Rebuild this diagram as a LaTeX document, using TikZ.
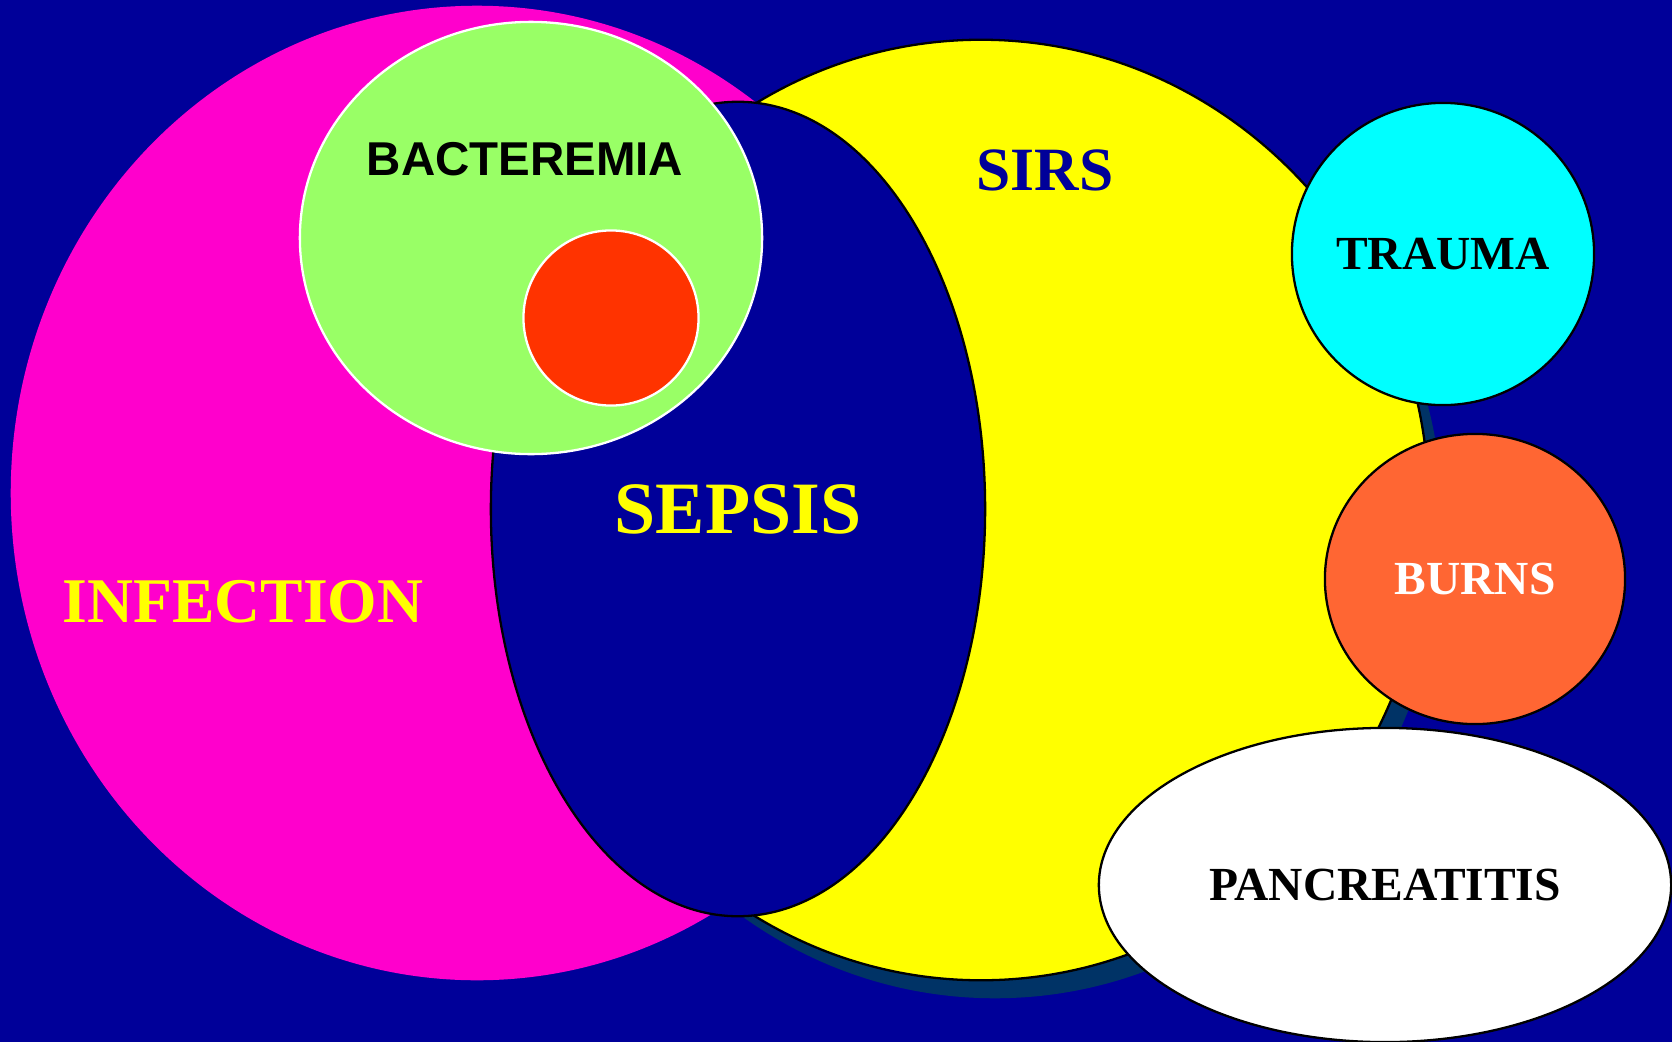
\documentclass[tikz,border=0pt]{standalone}
\usepackage{fontspec}
\setmainfont{Liberation Serif}
\newfontfamily\arialfont{Liberation Sans}
\usetikzlibrary{shapes.geometric, positioning}

\definecolor{bgblue}{HTML}{000099}
\definecolor{infmagenta}{HTML}{FF00CC}
\definecolor{sirsyellow}{HTML}{FFFF00}
\definecolor{shadowblue}{HTML}{003366}
\definecolor{bactgreen}{HTML}{99FF66}
\definecolor{corered}{HTML}{FF3300}
\definecolor{traumacyan}{HTML}{00FFFF}
\definecolor{burnorange}{HTML}{FF6633}

\begin{document}
\begin{tikzpicture}[
        x=0.01cm, y=-0.01cm,
        blob/.style={ellipse, inner sep=0pt, outer sep=0pt, line width=0.65pt},
        setblob/.style={blob, draw=black},
        innerblob/.style={blob, draw=white},
        smalltext/.style={font=\bfseries\fontsize{13.5}{16}\selectfont},
        label/.style={anchor=base},
    ]

    % Background
    \fill[bgblue] (0,0) rectangle (1672,1042);
    \useasboundingbox (0,0) rectangle (1672,1042);

    % Sets - big ellipses
    \node[blob, fill=infmagenta, minimum width=9.32cm, minimum height=9.74cm]
        (infection) at (477,493) {};
    \node[blob, fill=shadowblue, minimum width=8.96cm, minimum height=9.40cm]
        (sirsshadow) at (995,528) {};
    \node[setblob, fill=sirsyellow, minimum width=8.96cm, minimum height=9.40cm]
        (sirs) at (981,510) {};
    \node[setblob, fill=bgblue, minimum width=4.94cm, minimum height=8.14cm,
          text=sirsyellow, font=\bfseries\fontsize{21}{24}\selectfont]
        (sepsis) at (738,509) {SEPSIS};

    % Bacteremia
    \node[innerblob, fill=bactgreen, minimum width=4.62cm, minimum height=4.32cm]
        (bact) at (531,238) {};
    \node[innerblob, fill=corered, minimum width=1.75cm, minimum height=1.75cm]
        (bactcore) at (611,318) {};

    % Causes (right side)
    \node[setblob, fill=traumacyan, minimum width=3.02cm, minimum height=3.02cm, smalltext]
        (trauma) at (1443,254) {TRAUMA};
    \node[setblob, fill=burnorange, minimum width=3.00cm, minimum height=2.90cm,
          smalltext, text=white]
        (burns) at (1475,579) {BURNS};
    \node[setblob, fill=white, minimum width=5.72cm, minimum height=3.14cm, smalltext]
        (pancreas) at (1385,885) {PANCREATITIS};

    % Labels
    \node[label, font=\arialfont\bfseries\fontsize{13.5}{16}\selectfont]
        (bactlabel) at (525,175) {BACTEREMIA};
    \node[label, text=bgblue, font=\bfseries\fontsize{17.5}{20}\selectfont]
        (sirslabel) at (1045,190) {SIRS};
    \node[label, text=sirsyellow, font=\bfseries\fontsize{18.1}{21}\selectfont]
        (infectlabel) at (243,622) {INFECTION};

\end{tikzpicture}
\end{document}
